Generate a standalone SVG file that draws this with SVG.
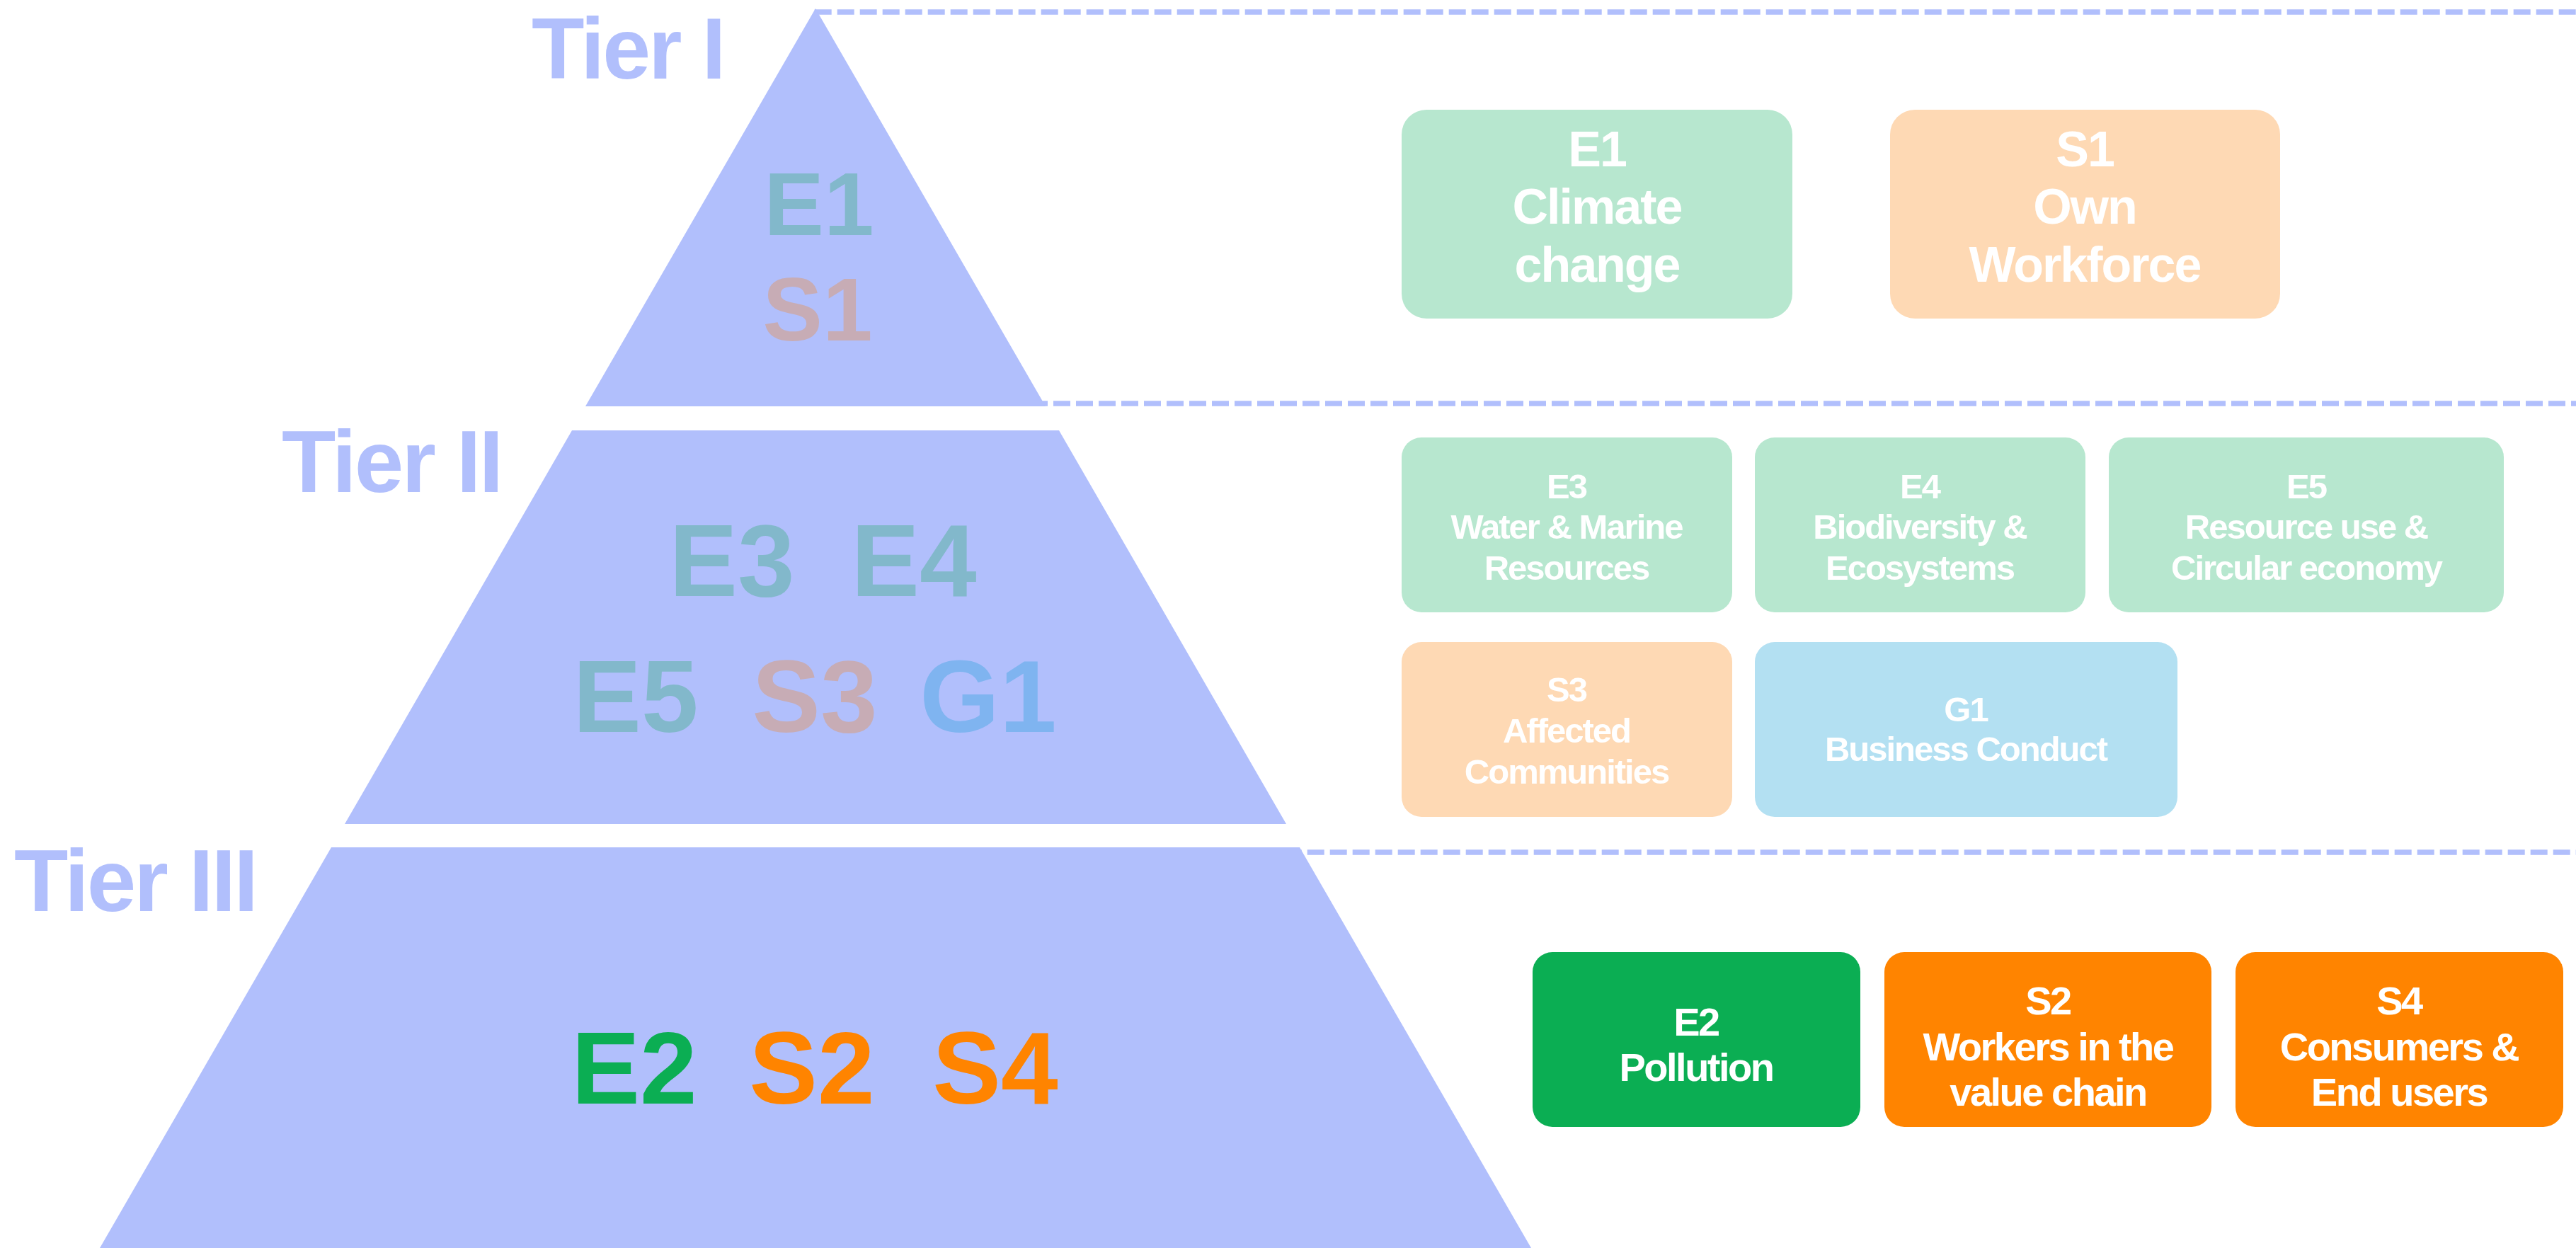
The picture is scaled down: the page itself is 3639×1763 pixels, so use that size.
<svg xmlns="http://www.w3.org/2000/svg" width="3639" height="1763" viewBox="0 0 3639 1763">
<style>
text{font-family:"Liberation Sans",Arial,sans-serif;font-weight:bold}
.tier{fill:#B1BFFC;font-size:125px;letter-spacing:-3px}
.pyr{fill:#B1BFFC}
.big{font-size:145px;text-anchor:middle}
.mid{font-size:127px;text-anchor:middle}
.dash{stroke:#B1BFFC;stroke-width:7.4;stroke-dasharray:24 8;fill:none}
.bt{fill:#FFFFFF;text-anchor:middle}
.t1{font-size:70px;letter-spacing:-2px}
.t2{font-size:49px;letter-spacing:-2px}
.t3{font-size:56px;letter-spacing:-2.5px}
.ge{fill:#B7E7CF}.pe{fill:#FED9B4}.bl{fill:#B3E0F2}.gr{fill:#0BAE53}.or{fill:#FF8400}
.cE{fill:#82B8CB}.cS{fill:#C7ACB5}.cG{fill:#7FB4F0}.cE2{fill:#0BAE53}.cS2{fill:#FF8400}
</style>
<rect width="3639" height="1763" fill="#FFFFFF"/>
<g id="connectors">
<line class="dash" x1="1150.7" y1="17" x2="3639" y2="17"/>
<line class="dash" x1="1456" y1="570" x2="3639" y2="570"/>
<line class="dash" x1="1814.7" y1="1204" x2="3639" y2="1204"/>
</g>
<g id="tier1">
<polygon class="pyr" points="1152,12 1477,574 827,574"/>
<text class="tier" x="751" y="111" style="font-size:122px">Tier I</text>
<text class="mid cE" x="1157" y="332">E1</text>
<text class="mid cS" x="1155" y="481">S1</text>
</g>
<g id="tier2">
<polygon class="pyr" points="808,608 1496,608 1817,1164 487,1164"/>
<text class="tier" x="398" y="695">Tier II</text>
<text class="big cE" x="1034" y="842">E3</text>
<text class="big cE" x="1291" y="842">E4</text>
<text class="big cE" x="898" y="1034">E5</text>
<text class="big cS" x="1151" y="1034">S3</text>
<text class="big cG" x="1396" y="1034">G1</text>
</g>
<g id="tier3">
<polygon class="pyr" points="468,1197 1836,1197 2163,1763 141,1763"/>
<text class="tier" x="20" y="1287">Tier III</text>
<text class="big cE2" x="896" y="1559">E2</text>
<text class="big cS2" x="1147" y="1559">S2</text>
<text class="big cS2" x="1406" y="1559">S4</text>
</g>
<g id="box-e1">
<rect class="ge" x="1980" y="155" width="552" height="295" rx="35"/>
<text class="bt t1" x="2256" y="235">E1</text>
<text class="bt t1" x="2256" y="316">Climate</text>
<text class="bt t1" x="2256" y="398">change</text>
</g>
<g id="box-s1">
<rect class="pe" x="2670" y="155" width="551" height="295" rx="35"/>
<text class="bt t1" x="2945" y="235">S1</text>
<text class="bt t1" x="2945" y="316">Own</text>
<text class="bt t1" x="2945" y="398">Workforce</text>
</g>
<g id="box-e3">
<rect class="ge" x="1980" y="618" width="467" height="247" rx="28"/>
<text class="bt t2" x="2213" y="704">E3</text>
<text class="bt t2" x="2213" y="761">Water &amp; Marine</text>
<text class="bt t2" x="2213" y="819">Resources</text>
</g>
<g id="box-e4">
<rect class="ge" x="2479" y="618" width="467" height="247" rx="28"/>
<text class="bt t2" x="2712" y="704">E4</text>
<text class="bt t2" x="2712" y="761">Biodiversity &amp;</text>
<text class="bt t2" x="2712" y="819">Ecosystems</text>
</g>
<g id="box-e5">
<rect class="ge" x="2979" y="618" width="558" height="247" rx="28"/>
<text class="bt t2" x="3258" y="704">E5</text>
<text class="bt t2" x="3258" y="761">Resource use &amp;</text>
<text class="bt t2" x="3258" y="819">Circular economy</text>
</g>
<g id="box-s3">
<rect class="pe" x="1980" y="907" width="467" height="247" rx="28"/>
<text class="bt t2" x="2213" y="991">S3</text>
<text class="bt t2" x="2213" y="1049">Affected</text>
<text class="bt t2" x="2213" y="1107">Communities</text>
</g>
<g id="box-g1">
<rect class="bl" x="2479" y="907" width="597" height="247" rx="28"/>
<text class="bt t2" x="2777" y="1019">G1</text>
<text class="bt t2" x="2777" y="1075">Business Conduct</text>
</g>
<g id="box-e2">
<rect class="gr" x="2165" y="1345" width="463" height="247" rx="28"/>
<text class="bt t3" x="2396" y="1463">E2</text>
<text class="bt t3" x="2396" y="1527">Pollution</text>
</g>
<g id="box-s2">
<rect class="or" x="2662" y="1345" width="462" height="247" rx="28"/>
<text class="bt t3" x="2893" y="1433">S2</text>
<text class="bt t3" x="2893" y="1498">Workers in the</text>
<text class="bt t3" x="2893" y="1562">value chain</text>
</g>
<g id="box-s4">
<rect class="or" x="3158" y="1345" width="463" height="247" rx="28"/>
<text class="bt t3" x="3389" y="1433">S4</text>
<text class="bt t3" x="3389" y="1498">Consumers &amp;</text>
<text class="bt t3" x="3389" y="1562">End users</text>
</g>
</svg>
